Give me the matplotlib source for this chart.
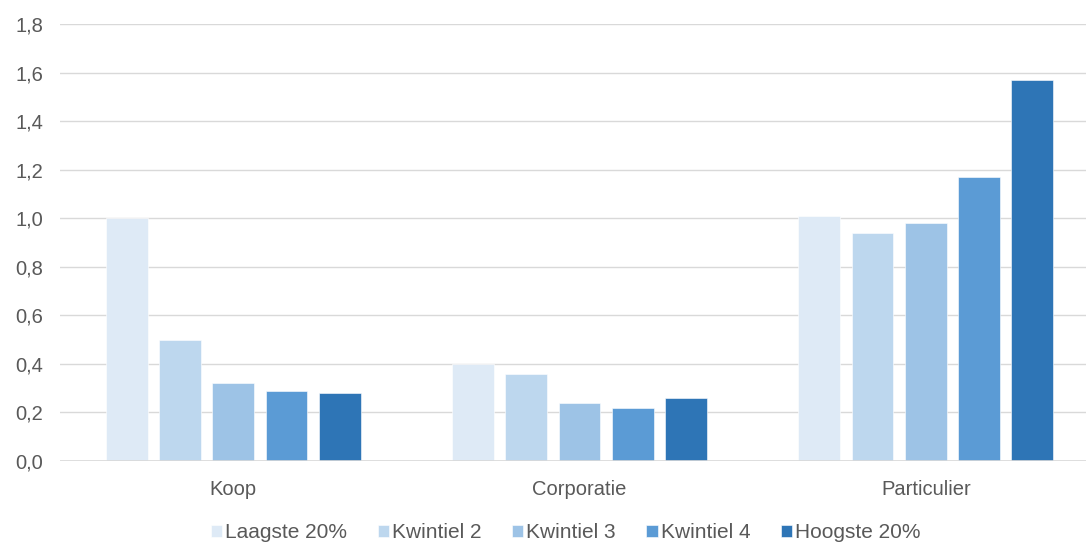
import numpy as np
import matplotlib
matplotlib.use("Agg")
import matplotlib.pyplot as plt
from matplotlib.ticker import FuncFormatter

# Data
categories = ["Koop", "Corporatie", "Particulier"]
series = ["Laagste 20%", "Kwintiel 2", "Kwintiel 3", "Kwintiel 4", "Hoogste 20%"]
laagste = [1.00, 0.40, 1.01]
kwintiel2 = [0.50, 0.36, 0.94]
kwintiel3 = [0.32, 0.24, 0.98]
kwintiel4 = [0.29, 0.22, 1.17]
hoogste = [0.28, 0.26, 1.57]
colors = ["#DEEAF6", "#BDD7EE", "#9DC3E6", "#5B9BD5", "#2E75B6"]

plt.rcParams["font.family"] = ["Liberation Sans", "DejaVu Sans"]
text_color = "#595959"
grid_color = "#D9D9D9"

fig = plt.figure(figsize=(10.86, 5.44), dpi=100)
ax = fig.add_axes([60 / 1086, 1 - 461 / 544, 1039 / 1086, 437 / 544])

x = np.arange(len(categories))
width = 0.1205
pitch = 0.1538
values = [laagste, kwintiel2, kwintiel3, kwintiel4, hoogste]
for i, (name, vals, c) in enumerate(zip(series, values, colors)):
    offset = (i - 2) * pitch
    ax.bar(x + offset, vals, width, color=c, label=name, zorder=3,
           edgecolor="white", linewidth=0.4)

ax.set_xlim(-0.5, 2.5)
ax.set_ylim(0, 1.8)
ax.set_yticks(np.arange(0, 1.81, 0.2))
ax.yaxis.set_major_formatter(FuncFormatter(lambda v, p: f"{v:.1f}".replace(".", ",")))
ax.set_xticks(x)
ax.set_xticklabels(categories)

ax.grid(True, axis="y", color=grid_color, linewidth=1.0, zorder=0)
for s in ax.spines.values():
    s.set_visible(False)
ax.axhline(0, color=grid_color, linewidth=1.2, zorder=4)
ax.tick_params(axis="both", length=0, colors=text_color, labelsize=14.5)
ax.tick_params(axis="y", pad=12)
ax.tick_params(axis="x", pad=14)

leg = fig.legend(loc="center", bbox_to_anchor=(0.521, 1 - 533 / 544), ncol=5,
                 frameon=False, fontsize=15, handlelength=0.55, handleheight=0.55,
                 handletextpad=0.15, columnspacing=1.45, borderaxespad=0)
for t in leg.get_texts():
    t.set_color(text_color)

fig.savefig("out.png", dpi=100)
